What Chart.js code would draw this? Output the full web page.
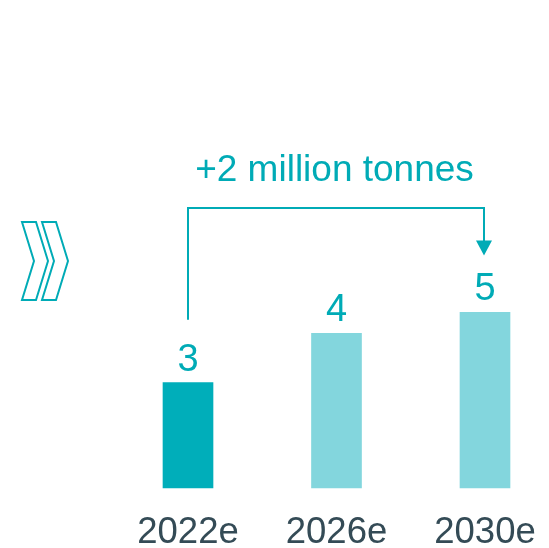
<!DOCTYPE html>
<html>
<head>
<meta charset="utf-8">
<script src="https://cdn.jsdelivr.net/npm/chart.js@4/dist/chart.umd.min.js"></script>
<style>
  html, body { margin: 0; padding: 0; background: #ffffff; }
  #grafica { display: block; }
</style>
</head>
<body>
<canvas id="grafica" width="549" height="548"></canvas>
<script>
// Datos del gráfico
const categorias = ['2022e', '2026e', '2030e'];
const valores = [3, 4.4, 5];
const etiquetasValor = ['3', '4', '5'];
const textoCrecimiento = '+2 million tonnes';

const TEAL_OSCURO = '#00aeba';
const TEAL_CLARO = '#83d6dd';
const TEAL_TEXTO = '#00abb6';
const GRIS_TEXTO = '#344b56';
const FUENTE = '"Liberation Sans", Arial, sans-serif';

// Etiquetas de valor, flecha de crecimiento e icono
const pluginAnotaciones = {
    id: 'anotaciones',
    afterDatasetsDraw(chart) {
        const ctx = chart.ctx;
        const meta = chart.getDatasetMeta(0);
        const barras = meta.data;

        ctx.save();
        // Valores encima de cada barra
        ctx.fillStyle = TEAL_TEXTO;
        ctx.font = '38px ' + FUENTE;
        ctx.textAlign = 'center';
        ctx.textBaseline = 'alphabetic';
        barras.forEach((barra, i) => {
            ctx.fillText(etiquetasValor[i], barra.x, barra.y - 12);
        });

        // Flecha de crecimiento del primero al último
        const x0 = barras[0].x;
        const x2 = barras[barras.length - 1].x;
        const yLinea = chart.chartArea.top + 1;
        const yInicio = barras[0].y - 63;
        const yPunta = barras[barras.length - 1].y - 57;

        ctx.strokeStyle = TEAL_TEXTO;
        ctx.lineWidth = 2;
        ctx.beginPath();
        ctx.moveTo(x0, yInicio);
        ctx.lineTo(x0, yLinea);
        ctx.lineTo(x2 - 1, yLinea);
        ctx.lineTo(x2 - 1, yPunta - 12);
        ctx.stroke();

        ctx.fillStyle = TEAL_TEXTO;
        ctx.beginPath();
        ctx.moveTo(x2 - 9, yPunta - 15);
        ctx.lineTo(x2 + 7, yPunta - 15);
        ctx.lineTo(x2 - 1, yPunta);
        ctx.closePath();
        ctx.fill();

        ctx.font = '37px ' + FUENTE;
        ctx.textAlign = 'center';
        ctx.fillText(textoCrecimiento, (x0 + x2) / 2 - 2, yLinea - 27);

        // Icono de doble chevron
        ctx.strokeStyle = TEAL_TEXTO;
        ctx.lineWidth = 2;
        ctx.lineJoin = 'miter';
        [0, 20].forEach(dx => {
            ctx.beginPath();
            ctx.moveTo(22 + dx, 222);
            ctx.lineTo(36 + dx, 222);
            ctx.lineTo(48 + dx, 261);
            ctx.lineTo(36 + dx, 300);
            ctx.lineTo(22 + dx, 300);
            ctx.lineTo(34 + dx, 261);
            ctx.closePath();
            ctx.stroke();
        });
        ctx.restore();
    }
};

const ctx = document.getElementById('grafica').getContext('2d');
const chart = new Chart(ctx, {
    type: 'bar',
    data: {
        labels: categorias,
        datasets: [{
            data: valores,
            backgroundColor: [TEAL_OSCURO, TEAL_CLARO, TEAL_CLARO],
            borderWidth: 0,
            barThickness: 50,
            clip: false
        }]
    },
    options: {
        responsive: false,
        animation: false,
        layout: {
            padding: { left: 188, right: 64, top: 207, bottom: 0 }
        },
        plugins: {
            legend: { display: false },
            tooltip: { enabled: false }
        },
        scales: {
            x: {
                offset: false,
                grid: { display: false, drawTicks: false },
                border: { display: false },
                ticks: {
                    color: GRIS_TEXTO,
                    font: { family: FUENTE, size: 36.5, lineHeight: 1 },
                    padding: 27,
                    maxRotation: 0,
                    autoSkip: false
                },
                afterFit(escala) {
                    // alto fijo y sin margen extra por las etiquetas de los extremos
                    escala.height = 60;
                    escala.paddingLeft = 0;
                    escala.paddingRight = 0;
                }
            },
            y: {
                display: false,
                min: 0,
                max: 8
            }
        }
    },
    plugins: [pluginAnotaciones]
});
</script>
</body>
</html>
